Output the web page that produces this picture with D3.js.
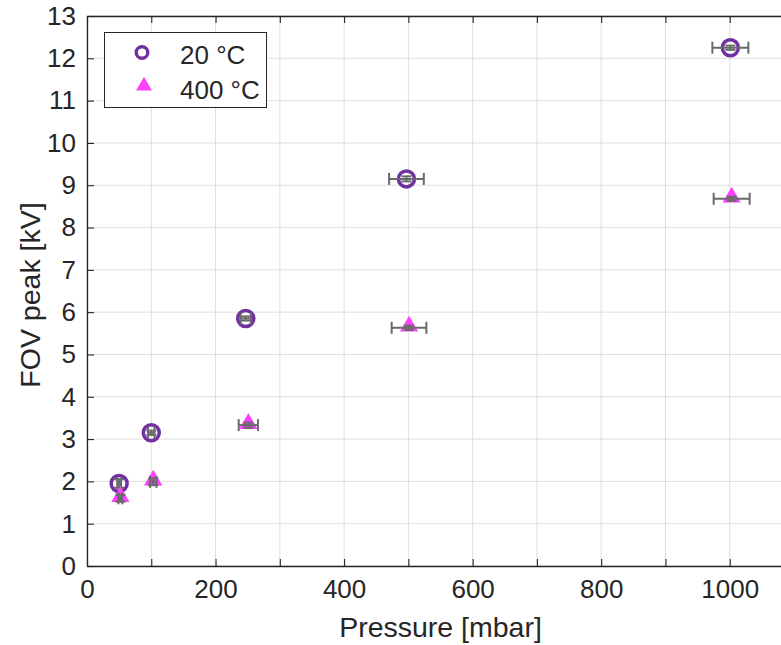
<!DOCTYPE html>
<html><head><meta charset="utf-8">
<script src="https://cdn.jsdelivr.net/npm/d3@7"></script>
<style>body{margin:0;background:#fff;} svg{display:block;} text{font-family:"Liberation Sans",Arial,sans-serif;}</style>
</head><body>
<svg id="c" width="781" height="645"></svg>
<script>
const pressure20 = [50, 100, 247, 497, 1001];
const fov20 = [1.95, 3.15, 5.85, 9.15, 12.25];
const xerr20 = [3, 5, 8, 27, 28];
const yerr20 = [0.1, 0.05, 0.05, 0.06, 0.05];
const pressure400 = [52, 103, 251, 501, 1003];
const fov400 = [1.6, 1.99, 3.33, 5.63, 8.68];
const xerr400 = [3, 5, 15, 27, 28];
const yerr400 = [0.08, 0.08, 0.06, 0.05, 0.05];
const xTicks = [0,100,200,300,400,500,600,700,800,900,1000,1100];
const xTickLabels = ["0","","200","","400","","600","","800","","1000",""];
const yTicks = [0,1,2,3,4,5,6,7,8,9,10,11,12,13];
const seriesNames = ["20 °C", "400 °C"];

const svg = d3.select("#c");
const L = 87, T = 16, B = 566, R = 794;
const x = d3.scaleLinear().domain([0, 1100]).range([L, R]);
const y = d3.scaleLinear().domain([0, 13]).range([B, T]);
const ink = "#262626";

// grid
const g = svg.append("g");
g.selectAll(".gx").data(xTicks).join("line")
  .attr("x1", d => x(d)).attr("x2", d => x(d)).attr("y1", T).attr("y2", B)
  .attr("stroke", "#dfdfdf").attr("stroke-width", 1);
g.selectAll(".gy").data(yTicks).join("line")
  .attr("x1", L).attr("x2", R).attr("y1", d => y(d)).attr("y2", d => y(d))
  .attr("stroke", "#dfdfdf").attr("stroke-width", 1);

// axes
const xAxis = d3.axisBottom(x).tickValues(xTicks).tickFormat((d,i) => xTickLabels[i]).tickSizeInner(-7).tickSizeOuter(0).tickPadding(14);
const yAxis = d3.axisLeft(y).tickValues(yTicks).tickFormat(d3.format("d")).tickSizeInner(-7).tickSizeOuter(0).tickPadding(11);
const xTop = d3.axisTop(x).tickValues(xTicks).tickFormat("").tickSizeInner(-7).tickSizeOuter(0);

function style(sel){
  sel.select(".domain").attr("stroke", ink).attr("stroke-width", 1.3);
  sel.selectAll(".tick line").attr("stroke", ink).attr("stroke-width", 1.1);
  sel.selectAll(".tick text").attr("fill", ink).style("font-size", "26px");
}
svg.append("g").attr("transform", `translate(0,${B})`).call(xAxis).call(style);
svg.append("g").attr("transform", `translate(${L},0)`).call(yAxis).call(style);
svg.append("g").attr("transform", `translate(0,${T})`).call(xTop).call(style);

// labels
svg.append("text").attr("x", (L+R)/2).attr("y", 637).attr("text-anchor","middle")
  .attr("fill", ink).style("font-size","28.5px").text("Pressure [mbar]");
svg.append("text").attr("transform", `translate(40,${(T+B)/2 + 4}) rotate(-90)`).attr("text-anchor","middle")
  .attr("fill", ink).style("font-size","28.5px").text("FOV peak [kV]");

const purple = "#7030a0", magenta = "#ff40ff", errc = "#6a6a6a";
const tri = d3.symbol().type(d3.symbolTriangle).size(145);

function markers(px, py, kind){
  const data = px.map((p,i)=>({p, v: py[i]}));
  if (kind === 0) {
    svg.append("g").selectAll("circle").data(data).join("circle")
      .attr("cx", d => x(d.p)).attr("cy", d => y(d.v)).attr("r", 8)
      .attr("fill", "none").attr("stroke", purple).attr("stroke-width", 3.5);
  } else {
    svg.append("g").selectAll("path").data(data).join("path")
      .attr("transform", d => `translate(${x(d.p)},${y(d.v)-1.5})`).attr("d", tri)
      .attr("fill", magenta);
  }
}
function errbars(px, py, xe, ye){
  const gg = svg.append("g").attr("stroke", errc).attr("stroke-width", 2).attr("fill","none");
  px.forEach((p,i) => {
    const cx = x(p), cy = y(py[i]);
    const x0 = x(p - xe[i]), x1 = x(p + xe[i]);
    const y0 = y(py[i] - ye[i]), y1 = y(py[i] + ye[i]);
    gg.append("line").attr("x1", x0).attr("x2", x1).attr("y1", cy).attr("y2", cy);
    gg.append("line").attr("x1", x0).attr("x2", x0).attr("y1", cy-6).attr("y2", cy+6);
    gg.append("line").attr("x1", x1).attr("x2", x1).attr("y1", cy-6).attr("y2", cy+6);
    gg.append("line").attr("x1", cx).attr("x2", cx).attr("y1", y0).attr("y2", y1);
    gg.append("line").attr("x1", cx-5).attr("x2", cx+5).attr("y1", y0).attr("y2", y0);
    gg.append("line").attr("x1", cx-5).attr("x2", cx+5).attr("y1", y1).attr("y2", y1);
  });
}
markers(pressure20, fov20, 0);
errbars(pressure20, fov20, xerr20, yerr20);
markers(pressure400, fov400, 1);
errbars(pressure400, fov400, xerr400, yerr400);

// legend
const lg = svg.append("g");
lg.append("rect").attr("x", 104.5).attr("y", 32.5).attr("width", 162).attr("height", 75)
  .attr("fill", "#fff").attr("stroke", ink).attr("stroke-width", 1);
lg.append("circle").attr("cx", 142).attr("cy", 52.5).attr("r", 5.8).attr("fill","none")
  .attr("stroke", purple).attr("stroke-width", 3.4);
lg.append("path").attr("transform", "translate(144,86)").attr("d", d3.symbol().type(d3.symbolTriangle).size(110)).attr("fill", magenta);
lg.append("text").attr("x", 180).attr("y", 64).attr("fill", ink).style("font-size","26px").text(seriesNames[0]);
lg.append("text").attr("x", 180).attr("y", 99).attr("fill", ink).style("font-size","26px").text(seriesNames[1]);
</script>
</body></html>
